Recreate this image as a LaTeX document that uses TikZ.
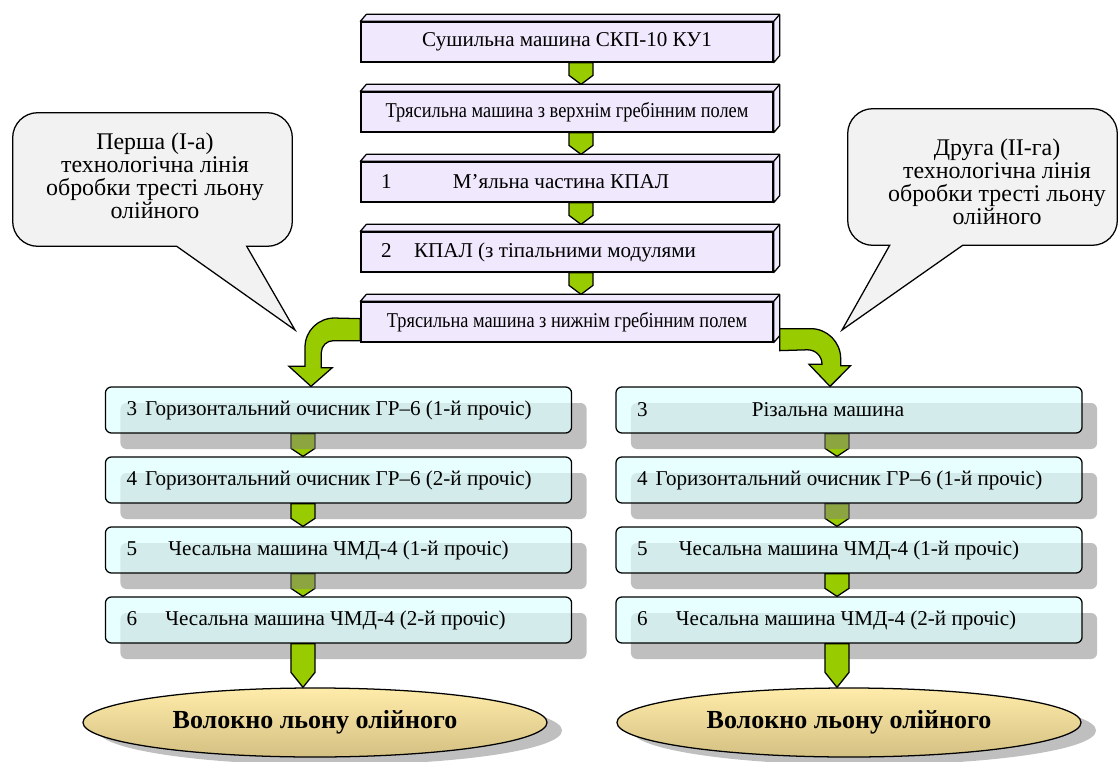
\documentclass[tikz,border=0pt]{standalone}
\usepackage{fontspec}
\setmainfont{Liberation Serif}
\newfontfamily\narrowserif[FakeStretch=0.87]{Liberation Serif}
\usetikzlibrary{calc,shapes.geometric,shadows,backgrounds}

\definecolor{boxlilac}{RGB}{240,232,252}
\definecolor{arrowgreen}{RGB}{153,204,0}
\definecolor{boxcyan}{RGB}{221,255,255}
\definecolor{notegray}{RGB}{242,242,242}
\definecolor{ovallight}{RGB}{255,236,170}
\definecolor{ovaldark}{RGB}{212,192,130}

\tikzset{
    stagebox/.style={draw, line width=0.9pt, fill=boxlilac, minimum width=10.3cm, minimum height=1cm, inner sep=0pt, font=\fontsize{15}{17}\selectfont},
    bevel/.style={draw, line width=0.9pt, fill=boxlilac, line join=round},
    linebox/.style={draw, line width=0.9pt, rounded corners=0.15cm, fill=boxcyan, fill opacity=0.7, text opacity=1, minimum width=11.65cm, minimum height=1.15cm, inner sep=0pt, font=\fontsize{15}{17}\selectfont, drop shadow={shadow xshift=0.375cm, shadow yshift=-0.4cm}},
    numtag/.style={anchor=base, inner sep=0pt, font=\fontsize{15}{17}\selectfont},
    noteframe/.style={inner sep=0pt},
    notebox/.style={align=center, inner sep=0pt, font=\fontsize{17}{16.5}\selectfont},
    balloon/.style={draw, line width=0.9pt, fill=notegray},
    fibre/.style={ellipse, draw, line width=0.9pt, minimum width=11.6cm, minimum height=1.725cm, top color=ovallight, middle color=ovaldark, bottom color=ovaldark, font=\bfseries\fontsize{18.5}{20}\selectfont, drop shadow={shadow xshift=0.375cm, shadow yshift=-0.2cm}},
    flowarrow/.style={draw, line width=0.9pt, fill=arrowgreen}
}

% chevron arrow: #1 tip depth (px), #2 start, #3 end
\newcommand\feedarrow[3][9]{%
    \filldraw[flowarrow] let \p1=(#2), \p2=(#3) in
        (\x1-0.3cm,\y1) -- (\x1-0.3cm,\y2+#1*0.025cm) -- (\x1,\y2)
        -- (\x1+0.3cm,\y2+#1*0.025cm) -- (\x1+0.3cm,\y1) -- cycle;}

\begin{document}
\begin{tikzpicture}[x=0.025cm, y=-0.025cm]
    \useasboundingbox (0,0) rectangle (1118,762);

    % callouts
    \node[noteframe, minimum width=6.975cm, minimum height=3.325cm] (lframe) at (152.5,179.5) {};
    \node[noteframe, minimum width=6.725cm, minimum height=3.4cm] (rframe) at (982.5,177) {};
    \node[notebox] (lnote) at ($(lframe.center)+(2.5,-3.5)$) {Перша (I-а)\\технологічна лінія\\обробки тресті льону\\олійного};
    \node[notebox] (rnote) at ($(rframe.center)+(14.5,5)$) {Друга (II-га)\\технологічна лінія\\обробки тресті льону\\олійного};
    \coordinate (ltip) at (295,330);
    \coordinate (rtip) at (842,330);

    % main line
    \node[stagebox] (t1) at (567,42) {Сушильна машина СКП-10 КУ1};
    \node[stagebox, font=\narrowserif\fontsize{15}{17}\selectfont] (t2) at (567,112) {Трясильна машина з верхнім гребінним полем};
    \node[stagebox] (t3) at (567,182) {М’яльна частина КПАЛ\hspace*{0.3cm}};
    \node[stagebox] (t4) at (567,252) {КПАЛ (з тіпальними модулями\hspace*{0.6cm}};
    \node[stagebox, font=\narrowserif\fontsize{15}{17}\selectfont] (t5) at (567,322) {Трясильна машина з нижнім гребінним полем};
    \node[numtag] (t3num) at ($(t3.base west)+(26,0)$) {1};
    \node[numtag] (t4num) at ($(t4.base west)+(26,0)$) {2};

    \foreach \tb in {t1,t2,t3,t4,t5}
        \filldraw[bevel] (\tb.north west) -- ++(6,-7) -- ($(\tb.north east)+(6,-7)$) -- ($(\tb.south east)+(6,-7)$) -- (\tb.south east) -- (\tb.north east) -- cycle
            (\tb.north east) -- ++(6,-7);

    % two lines
    \node[linebox] (l3) at (338.5,410) {Горизонтальний очисник ГР–6 (1-й прочіс)};
    \node[linebox] (l4) at (338.5,480) {Горизонтальний очисник ГР–6 (2-й прочіс)};
    \node[linebox] (l5) at (338.5,550) {Чесальна машина ЧМД-4 (1-й прочіс)};
    \node[linebox] (l6) at (338.5,620) {Чесальна машина ЧМД-4 (2-й прочіс)\hspace*{0.15cm}};
    \node[linebox] (r3) at (849,410) {Різальна машина\hspace*{1.05cm}};
    \node[linebox] (r4) at (849,480) {Горизонтальний очисник ГР–6 (1-й прочіс)};
    \node[linebox] (r5) at (849,550) {Чесальна машина ЧМД-4 (1-й прочіс)};
    \node[linebox] (r6) at (849,620) {Чесальна машина ЧМД-4 (2-й прочіс)\hspace*{0.15cm}};
    \foreach \col in {l,r}
        \foreach \k in {3,...,6}
            \node[numtag] (\col\k num) at ($(\col\k.base west)+(27,0)$) {\k};

    \node[fibre] (lfibre) at (315,722.5) {Волокно льону олійного};
    \node[fibre] (rfibre) at (849,722.5) {Волокно льону олійного};

    \begin{scope}[on background layer]
        \filldraw[balloon] ($(lframe.south west)+(164,0)$) -- (ltip) -- ($(lframe.south west)+(234,0)$) [rounded corners=0.625cm] -- (lframe.south east) -- (lframe.north east) -- (lframe.north west) -- (lframe.south west) [sharp corners] -- cycle;
        \filldraw[balloon] ($(rframe.south west)+(42,0)$) -- (rtip) -- ($(rframe.south west)+(115,0)$) [rounded corners=0.625cm] -- (rframe.south east) -- (rframe.north east) -- (rframe.north west) -- (rframe.south west) [sharp corners] -- cycle;
        % arrows under the shadows
        \feedarrow[8]{[xshift=-0.8875cm]l3.south}{l4.north}
        \feedarrow[8]{[xshift=-0.8875cm]l5.south}{l6.north}
        \feedarrow[8]{[xshift=-0.3cm]r3.south}{r4.north}
        \feedarrow[8]{[xshift=-0.3cm]r4.south}{r5.north}
    \end{scope}

    \feedarrow{[xshift=0.35cm]t1.south}{[yshift=0.175cm]t2.north}
    \feedarrow{[xshift=0.35cm]t2.south}{[yshift=0.175cm]t3.north}
    \feedarrow{[xshift=0.35cm]t3.south}{[yshift=0.175cm]t4.north}
    \feedarrow{[xshift=0.35cm]t4.south}{[yshift=0.175cm]t5.north}
    \feedarrow[8]{[xshift=-0.8875cm]l4.south}{l5.north}
    \feedarrow[8]{[xshift=-0.3cm]r5.south}{r6.north}
    \feedarrow[15]{[xshift=-0.8875cm]l6.south}{lfibre.north}
    \feedarrow[15]{[xshift=-0.3cm]r6.south}{rfibre.north}

    % split arrows
    \filldraw[flowarrow] ($(t5.south west)+(0,-2)$) [rounded corners=0.3cm] -- ++(-39,0) [sharp corners] -- ++(0,27) -- ++(11,0) -- ($(l3.north)+(-27.5,0)$) -- ++(-22,-20) -- ++(16,0) [rounded corners=0.75cm] -- ++(0,-49) [sharp corners] -- ($(t5.south west)+(0,-24)$) -- cycle;
    \filldraw[flowarrow] ($(t5.south east)+(6,-14)$) [rounded corners=0.75cm] -- ++(61,0) [sharp corners] -- ++(0,37) -- ++(10,0) -- ($(r3.north)+(-19,0)$) -- ++(-21,-22) -- ++(13,0) [rounded corners=0.37cm] -- ++(0,-15) [sharp corners] -- ($(t5.south east)+(6,8)$) -- cycle;
\end{tikzpicture}
\end{document}
